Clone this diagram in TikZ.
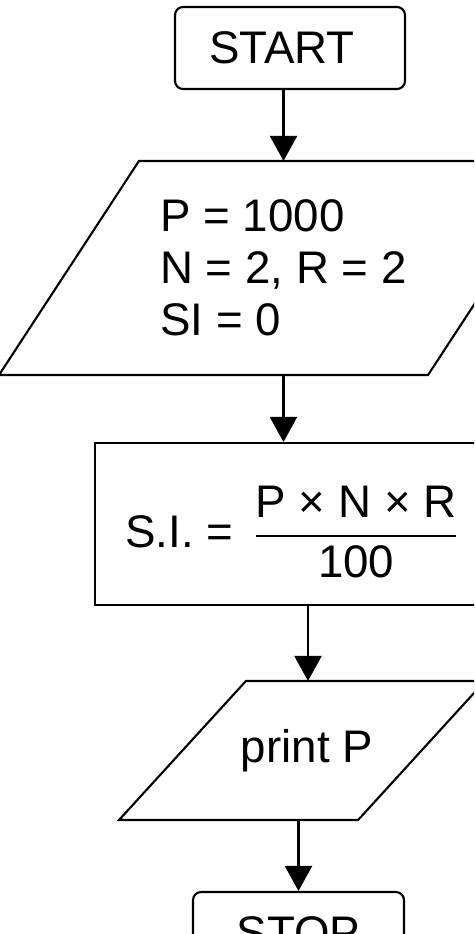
\documentclass[tikz,border=0pt]{standalone}
\usepackage{amsmath}
\usepackage{fontspec}
\setmainfont{Liberation Sans}
\usetikzlibrary{arrows.meta}

\tikzset{
	term/.style={shape=rectangle,draw=black,rounded corners=0.16cm,minimum width=4.6cm,minimum height=1.64cm,inner sep=0pt},
	io/.style={shape=rectangle,inner sep=0pt},
	proc/.style={shape=rectangle,draw=black,minimum width=8.52cm,minimum height=3.24cm,inner sep=0pt},
	arr/.style={-{Triangle[length=0.5cm,width=0.54cm]}}
}

\begin{document}
\begin{tikzpicture}[x=0.02cm,y=-0.02cm,line width=1.2pt,font=\fontsize{26}{29.5}\selectfont]

	\useasboundingbox (0,0) rectangle (474,934);
	\fill[white] (0,0) rectangle (474,934);
	\clip (0,0) rectangle (474,934);

	\node[term] (start) at (290,48) {START\hspace*{0.32cm}};
	\node[io,minimum width=11.34cm,minimum height=4.24cm,align=left] (in) at (283.5,268) {P = 1000\\N = 2, R = 2\\SI = 0};
	\node[proc] (calc) at (308,524) {\raisebox{-0.16cm}[\height][\depth]{S.I. = \,$\dfrac{\mbox{P × N × R}}{\mbox{100}}$}\hspace*{0.64cm}};
	\node[io,minimum width=7.28cm,minimum height=2.74cm] (out) at (302,750.5) {print P\hspace*{-0.2cm}};
	\node[term,minimum width=4.22cm] (stop) at (298.5,933) {STOP};

	% parallelograms round the input and output nodes
	\draw (in.south west) -- ([xshift=-2.8cm]in.south east) -- (in.north east) -- ([xshift=2.8cm]in.north west) -- cycle;
	\draw (out.south west) -- ([xshift=-2.54cm]out.south east) -- (out.north east) -- ([xshift=2.54cm]out.north west) -- cycle;

	\path[arr] (in.north |- start.south) edge (in.north);
	\path[arr] (in.south) edge (in.south |- calc.north);
	\path[arr] (calc.south) edge (calc.south |- out.north);
	\path[arr] (stop.north |- out.south) edge (stop.north);

\end{tikzpicture}
\end{document}
